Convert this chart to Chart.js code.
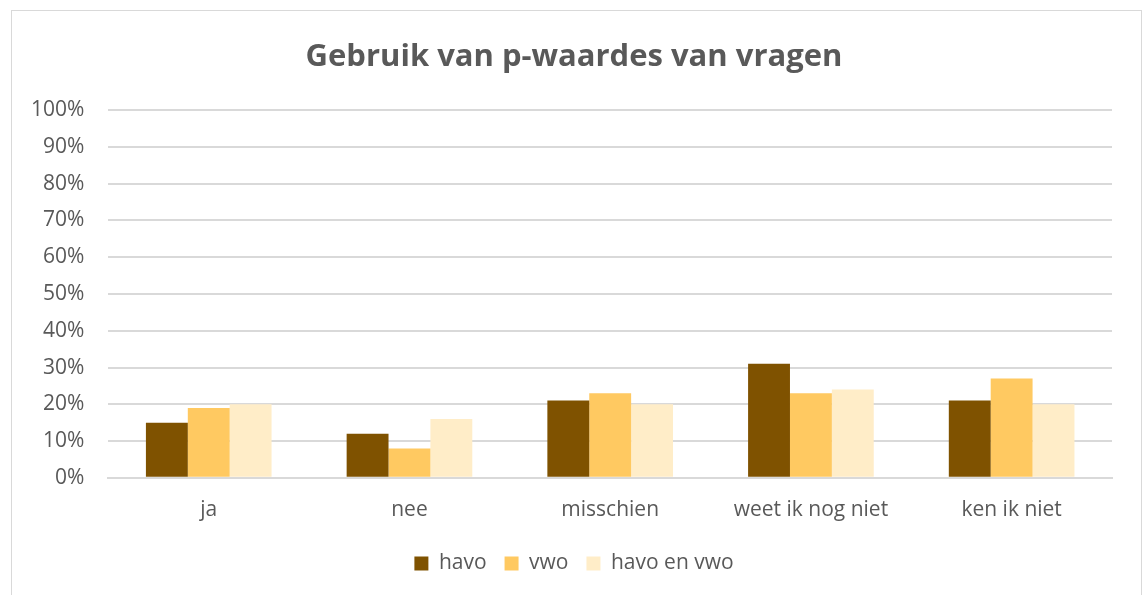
<!DOCTYPE html>
<html>
<head>
<meta charset="utf-8">
<script src="https://cdn.jsdelivr.net/npm/chart.js@4"></script>
<style>
  body { margin: 0; background: #fff; }
  #frame { position: absolute; left: 11px; top: 10px; width: 1129px; height: 600px; border: 1px solid #d9d9d9; pointer-events: none; }
  #box { position: absolute; left: 0; top: 0; width: 1146px; height: 595px; }
</style>
</head>
<body>
<div id="box"><canvas id="myChart"></canvas></div>
<div id="frame"></div>
<script>
var categories = ['ja', 'nee', 'misschien', 'weet ik nog niet', 'ken ik niet'];
var havo = [15, 12, 21, 31, 21];
var vwo = [19, 8, 23, 23, 27];
var havoEnVwo = [20, 16, 20, 24, 20];
var yTicks = [0, 10, 20, 30, 40, 50, 60, 70, 80, 90, 100];

var fontFamily = '"Open Sans", "DejaVu Sans", sans-serif';
var grey = '#595959';

const data = {
  labels: categories,
  datasets: [
    { label: 'havo', data: havo, backgroundColor: '#7f5200' },
    { label: 'vwo', data: vwo, backgroundColor: '#ffc961' },
    { label: 'havo en vwo', data: havoEnVwo, backgroundColor: '#ffedc8' }
  ]
};

const config = {
  type: 'bar',
  data: data,
  options: {
    responsive: true,
    maintainAspectRatio: false,
    animation: false,
    datasets: { bar: { barPercentage: 1, categoryPercentage: 0.626 } },
    layout: { padding: { left: 7, right: 5, top: 35, bottom: 11 } },
    plugins: {
      title: {
        display: true,
        text: 'Gebruik van p-waardes van vragen',
        color: grey,
        font: { family: fontFamily, size: 31, weight: 'bold' },
        padding: { top: 4, bottom: 34 }
      },
      legend: {
        position: 'bottom',
        labels: {
          color: grey,
          font: { family: fontFamily, size: 21 },
          boxWidth: 14,
          boxHeight: 14,
          padding: 18
        }
      },
      tooltip: { enabled: false }
    },
    scales: {
      x: {
        grid: { display: false },
        border: { color: '#d9d9d9', width: 2 },
        ticks: { color: grey, font: { family: fontFamily, size: 21 }, padding: 12 }
      },
      y: {
        min: 0,
        max: 100,
        afterBuildTicks: function (axis) {
          axis.ticks = yTicks.map(function (v) { return { value: v }; });
        },
        grid: { color: '#d9d9d9', lineWidth: 2, drawTicks: false },
        border: { display: false },
        ticks: {
          color: grey,
          font: { family: fontFamily, size: 21 },
          padding: 24,
          callback: function (v) { return v + '%'; }
        }
      },
      // empty right-hand axis, only keeps space so the title stays centred
      yRight: {
        position: 'right',
        grid: { display: false, drawTicks: false },
        border: { display: false },
        ticks: { display: false },
        afterFit: function (axis) { axis.width = 29; }
      }
    }
  }
};

const myChart = new Chart(document.getElementById('myChart'), config);
</script>
</body>
</html>
